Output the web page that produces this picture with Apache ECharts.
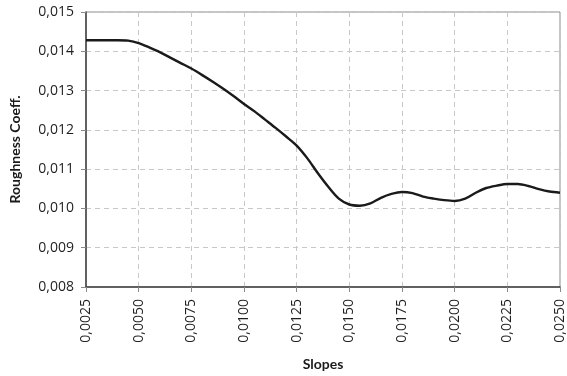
<!DOCTYPE html>
<html><head><meta charset="utf-8">
<script src="https://cdn.jsdelivr.net/npm/echarts@6/dist/echarts.min.js"></script>
<style>html,body{margin:0;padding:0;background:#fff}#c{width:567px;height:376px}</style>
</head><body><div id="c"></div>
<script>
const slopes = [0.0025,0.0030,0.0035,0.0040,0.0045,0.0050,0.0055,0.0060,0.0065,0.0070,0.0075,0.0080,0.0085,0.0090,0.0095,0.0100,0.0105,0.0110,0.0115,0.0120,0.0125,0.0130,0.0135,0.0140,0.0145,0.0150,0.0155,0.0160,0.0165,0.0170,0.0175,0.0180,0.0185,0.0190,0.0195,0.0200,0.0205,0.0210,0.0215,0.0220,0.0225,0.0230,0.0235,0.0240,0.0245,0.0250];
const roughness = [0.01428,0.01428,0.01428,0.01428,0.01427,0.01421,0.01410,0.01398,0.01384,0.01370,0.01356,0.01340,0.01323,0.01305,0.01286,0.01266,0.01247,0.01226,0.01205,0.01183,0.01160,0.01128,0.01090,0.01055,0.01025,0.01010,0.01007,0.01013,0.01027,0.01037,0.01042,0.01039,0.01030,0.01025,0.01021,0.01019,0.01025,0.01040,0.01052,0.01058,0.01062,0.01062,0.01057,0.01049,0.01043,0.01040];
const xTitle = "Slopes";
const yTitle = "Roughness Coeff.";

const labelFont = "'Open Sans', sans-serif";
const titleFont = "Lato, 'Open Sans', sans-serif";
const chart = echarts.init(document.getElementById('c'));
chart.setOption({
  animation: false,
  grid: {left: 84, right: 6, top: 12, bottom: 87, show: true, borderColor: '#8a8a8a', borderWidth: 1},
  xAxis: {
    type: 'value', min: 0.0025, max: 0.025, interval: 0.0025,
    name: xTitle, nameLocation: 'middle', nameGap: 70,
    nameTextStyle: {fontFamily: titleFont, fontWeight: 'bold', fontSize: 14, color: '#1a1a1a'},
    axisLine: {show: true, lineStyle: {color: '#404040', width: 1.5}},
    axisTick: {show: true, length: 5, lineStyle: {color: '#8a8a8a'}},
    axisLabel: {rotate: 90, margin: 12, fontFamily: labelFont, fontSize: 14, color: '#1f1f1f',
      formatter: v => v.toFixed(4).replace('.', ',')},
    splitLine: {show: true, lineStyle: {color: '#c8c8c8', type: [5, 4]}}
  },
  yAxis: {
    type: 'value', min: 0.008, max: 0.015, interval: 0.001,
    name: yTitle, nameLocation: 'middle', nameGap: 64,
    nameTextStyle: {fontFamily: titleFont, fontWeight: 'bold', fontSize: 14, color: '#1a1a1a'},
    axisLine: {show: true, lineStyle: {color: '#404040', width: 1.5}},
    axisTick: {show: true, length: 5, lineStyle: {color: '#8a8a8a'}},
    axisLabel: {margin: 12, fontFamily: labelFont, fontSize: 14, color: '#1f1f1f',
      formatter: v => v.toFixed(3).replace('.', ',')},
    splitLine: {show: true, lineStyle: {color: '#c8c8c8', type: [5, 4]}}
  },
  series: [{
    type: 'line', data: slopes.map((s, i) => [s, roughness[i]]),
    smooth: 0.3, showSymbol: false, symbol: 'none',
    lineStyle: {color: '#1a1a1a', width: 2.4}
  }]
});
</script></body></html>
